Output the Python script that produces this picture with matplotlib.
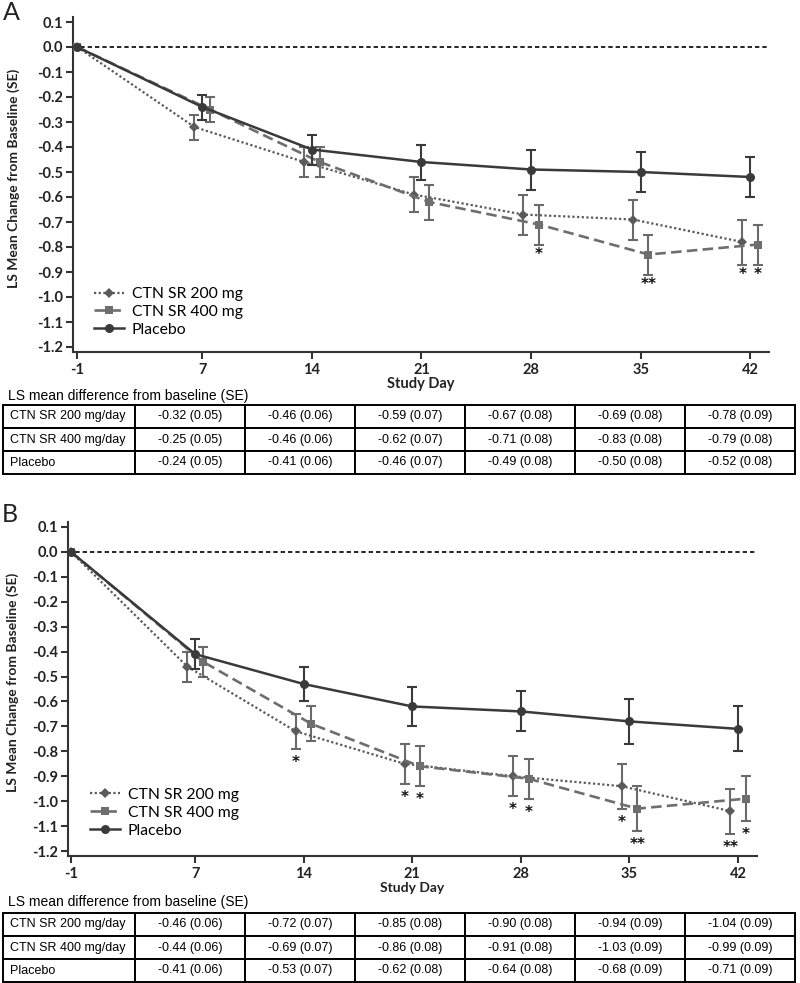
import numpy as np
import matplotlib
matplotlib.use("Agg")
import matplotlib.pyplot as plt
from matplotlib.ticker import FuncFormatter

plt.rcParams['font.family'] = ['Lato', 'DejaVu Sans']
plt.rcParams['axes.unicode_minus'] = False

# study days shown on the x axis
days = np.array([-1, 7, 14, 21, 28, 35, 42])

# panel A: LS mean change and SE
ctn200_a = [0.0, -0.32, -0.46, -0.59, -0.67, -0.69, -0.78]
ctn200_a_se = [0.0, 0.05, 0.06, 0.07, 0.08, 0.08, 0.09]
ctn400_a = [0.0, -0.25, -0.46, -0.62, -0.71, -0.83, -0.79]
ctn400_a_se = [0.0, 0.05, 0.06, 0.07, 0.08, 0.08, 0.08]
placebo_a = [0.0, -0.24, -0.41, -0.46, -0.49, -0.50, -0.52]
placebo_a_se = [0.0, 0.05, 0.06, 0.07, 0.08, 0.08, 0.08]
sig200_a = ['', '', '', '', '', '', '*']
sig400_a = ['', '', '', '', '*', '**', '*']

# panel B: LS mean change and SE
ctn200_b = [0.0, -0.46, -0.72, -0.85, -0.90, -0.94, -1.04]
ctn200_b_se = [0.0, 0.06, 0.07, 0.08, 0.08, 0.09, 0.09]
ctn400_b = [0.0, -0.44, -0.69, -0.86, -0.91, -1.03, -0.99]
ctn400_b_se = [0.0, 0.06, 0.07, 0.08, 0.08, 0.09, 0.09]
placebo_b = [0.0, -0.41, -0.53, -0.62, -0.64, -0.68, -0.71]
placebo_b_se = [0.0, 0.06, 0.07, 0.08, 0.08, 0.09, 0.09]
sig200_b = ['', '', '*', '*', '*', '*', '**']
sig400_b = ['', '', '', '*', '*', '**', '*']

legend_labels = ['CTN SR 200 mg', 'CTN SR 400 mg', 'Placebo']
table_rows = ['CTN SR 200 mg/day', 'CTN SR 400 mg/day', 'Placebo']
table_title = 'LS mean difference from baseline (SE)'

W, H = 800, 983


def fx(px):
    return px / W


def fy(py):
    return 1 - py / H


def axes_rect(left, top, right, bottom):
    return [fx(left), fy(bottom), (right - left) / W, (bottom - top) / H]


def draw_panel(ax, series, xlim, legend_anchor, star_off):
    # series: list of (values, se, sig, offset, style)
    for vals, se, sig, off, st in series:
        x = np.where(days == -1, days, days + off).astype(float)
        vals = np.array(vals)
        se = np.array(se)
        has_err = se > 0
        ax.errorbar(x[has_err], vals[has_err], yerr=se[has_err], fmt='none',
                    ecolor=st['ecolor'], elinewidth=1.5, capsize=3.4, capthick=1.5,
                    zorder=st['z'])
        ax.plot(x, vals, color=st['color'], linestyle=st['ls'], linewidth=st['lw'],
                marker=st['marker'], markersize=st['ms'], markeredgewidth=0,
                label=st['label'], zorder=st['z'] + 0.5)
        for xi, v, s, m in zip(x, vals, se, sig):
            if m:
                ax.annotate(m, xy=(xi, v - s), xytext=(0, star_off), textcoords='offset pixels',
                            ha='center', va='baseline', fontsize=11, fontweight='bold',
                            family='DejaVu Sans', color='#111111')

    ax.axhline(0, xmin=0, xmax=0.997, color='black', linestyle=(0, (2.6, 1.8)),
               linewidth=1.2, zorder=1)
    ax.set_xlim(*xlim)
    ax.set_ylim(-1.22, 0.12)
    ax.set_xticks(days)
    ax.set_yticks(np.round(np.arange(-1.2, 0.15, 0.1), 1))
    ax.yaxis.set_major_formatter(FuncFormatter(lambda v, p: '0.0' if abs(v) < 1e-9 else f'{v:.1f}'))
    for side in ['top', 'right']:
        ax.spines[side].set_visible(False)
    for side in ['left', 'bottom']:
        ax.spines[side].set_linewidth(1.5)
        ax.spines[side].set_color('#333333')
    ax.tick_params(length=5, width=1.5, color='#333333', labelsize=10.5, labelcolor='#222222')
    ax.tick_params(axis='x', pad=3)
    ax.tick_params(axis='y', pad=2)
    for lbl in ax.get_xticklabels() + ax.get_yticklabels():
        lbl.set_fontweight('bold')
    ax.legend(loc='upper left', bbox_to_anchor=legend_anchor, frameon=False,
              borderpad=0, borderaxespad=0, handlelength=1.9, handletextpad=0.5,
              labelspacing=0.25, fontsize=11.3)


def draw_table(rect, rows):
    axt = fig.add_axes(rect)
    axt.axis('off')
    tbl = axt.table(cellText=rows, colWidths=[132 / 792] + [110 / 792] * 6,
                    cellLoc='center', bbox=[0, 0, 1, 1])
    tbl.auto_set_font_size(False)
    for (r, c), cell in tbl.get_celld().items():
        cell.set_linewidth(1.4)
        cell.set_edgecolor('black')
        txt = cell.get_text()
        txt.set_fontsize(9)
        txt.set_fontfamily('Liberation Sans')
        if c == 0:
            txt.set_horizontalalignment('left')
            cell.PAD = 0.05


def fmt_rows(names, vals_list, se_list):
    rows = []
    for name, vals, se in zip(names, vals_list, se_list):
        rows.append([name] + [f'{v:.2f} ({s:.2f})' for v, s in zip(vals[1:], se[1:])])
    return rows


styles = {
    '200': dict(color='#5a5a5a', ecolor='#6a6a6a', ls=(0, (1, 1.1)), lw=1.6, marker='D', ms=5.5, z=3,
                label=legend_labels[0]),
    '400': dict(color='#6e6e6e', ecolor='#6a6a6a', ls=(0, (4, 2)), lw=1.9, marker='s', ms=6, z=3,
                label=legend_labels[1]),
    'pbo': dict(color='#3a3a3a', ecolor='#3a3a3a', ls='-', lw=1.8, marker='o', ms=6.5, z=4,
                label=legend_labels[2]),
}

fig = plt.figure(figsize=(W / 100, H / 100), dpi=100)

# ---- Panel A
ax_a = fig.add_axes(axes_rect(73, 17, 769, 352))
draw_panel(ax_a, [
    (ctn200_a, ctn200_a_se, sig200_a, -0.5, styles['200']),
    (ctn400_a, ctn400_a_se, sig400_a, 0.5, styles['400']),
    (placebo_a, placebo_a_se, [''] * 7, 0.0, styles['pbo']),
], xlim=(-1.26, 43.2), legend_anchor=(0.03, 0.194), star_off=-15)
fig.text(fx(11), fy(13), 'A', fontsize=18, ha='center', va='center', color='#222222')
fig.text(fx(14), fy(178), 'LS Mean Change from Baseline (SE)', rotation=90, ha='center',
         va='center', fontsize=10, fontweight='bold', color='#222222')
fig.text(fx(421), fy(384), 'Study Day', ha='center', va='center', fontsize=10.5,
         fontweight='bold', color='#222222')
fig.text(fx(8), fy(396), table_title, ha='left', va='center', fontsize=10,
         family='Liberation Sans')
draw_table(axes_rect(3, 405, 795, 474),
           fmt_rows(table_rows, [ctn200_a, ctn400_a, placebo_a],
                    [ctn200_a_se, ctn400_a_se, placebo_a_se]))

# ---- Panel B
ax_b = fig.add_axes(axes_rect(68, 522, 757, 856))
draw_panel(ax_b, [
    (ctn200_b, ctn200_b_se, sig200_b, -0.5, styles['200']),
    (ctn400_b, ctn400_b_se, sig400_b, 0.5, styles['400']),
    (placebo_b, placebo_b_se, [''] * 7, 0.0, styles['pbo']),
], xlim=(-1.19, 43.22), legend_anchor=(0.032, 0.204), star_off=-18)
fig.text(fx(10), fy(515), 'B', fontsize=18, ha='center', va='center', color='#222222')
fig.text(fx(13), fy(682), 'LS Mean Change from Baseline (SE)', rotation=90, ha='center',
         va='center', fontsize=10, fontweight='bold', color='#222222')
fig.text(fx(412), fy(888), 'Study Day', ha='center', va='center', fontsize=10,
         fontweight='bold', color='#222222')
fig.text(fx(8), fy(902), table_title, ha='left', va='center', fontsize=10,
         family='Liberation Sans')
draw_table(axes_rect(3, 913, 795, 982),
           fmt_rows(table_rows, [ctn200_b, ctn400_b, placebo_b],
                    [ctn200_b_se, ctn400_b_se, placebo_b_se]))

fig.savefig('out.png', dpi=100)
